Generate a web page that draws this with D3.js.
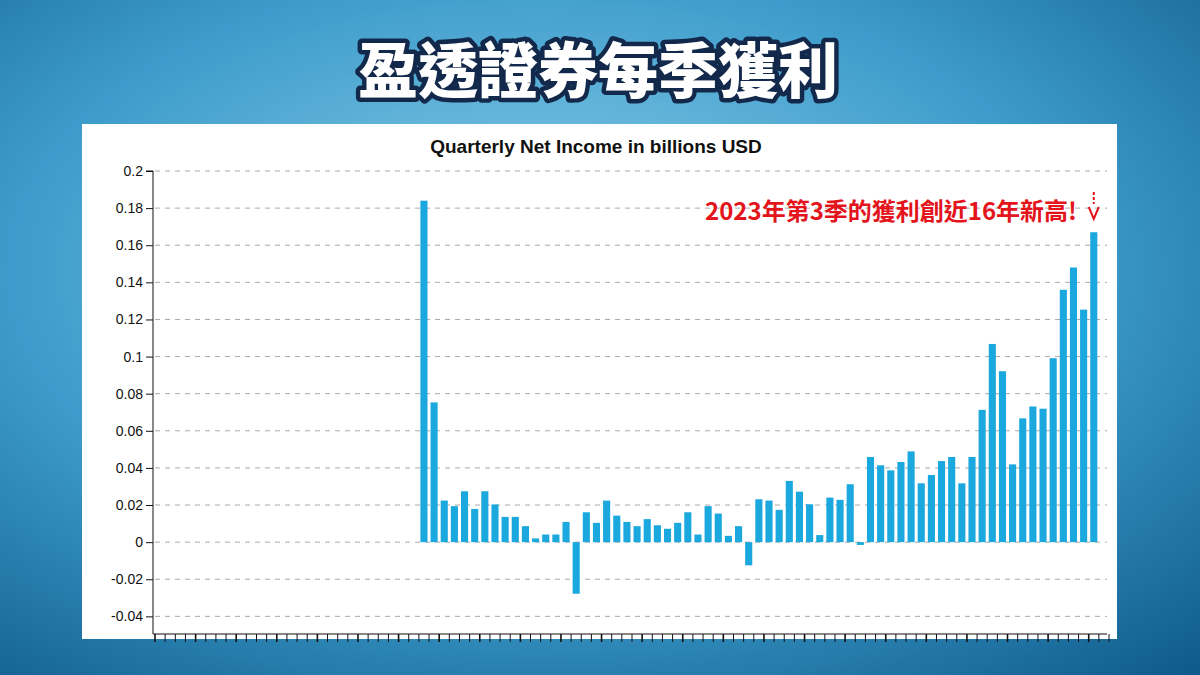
<!DOCTYPE html>
<html>
<head>
<meta charset="utf-8">
<script src="https://cdn.jsdelivr.net/npm/d3@7"></script>
<style>
  body {margin:0; width:1200px; height:675px; overflow:hidden;}
</style>
</head>
<body>
<svg id="chart" width="1200" height="675"></svg>
<script>
// quarters 2000Q3 .. 2023Q4 (94 slots), null = no data
const quarters = [];
for (let y = 2000; y <= 2023; y++) for (let q = 1; q <= 4; q++) quarters.push(y + 'Q' + q);
const slots = quarters.slice(2);
const leading = new Array(26).fill(null);
const income = [0.184, 0.0753, 0.0224, 0.0194, 0.0274, 0.0179, 0.0274, 0.0203, 0.0136, 0.0136,
  0.0086, 0.002, 0.0041, 0.0041, 0.0109, -0.0278, 0.0161, 0.0104, 0.0224, 0.0143,
  0.0109, 0.0086, 0.0124, 0.0091, 0.0072, 0.0104, 0.0161, 0.0041, 0.0194, 0.0154,
  0.0034, 0.0086, -0.0125, 0.0231, 0.0224, 0.0174, 0.033, 0.0272, 0.0204, 0.0038,
  0.024, 0.0228, 0.0312, -0.0015, 0.0459, 0.0414, 0.0387, 0.0432, 0.0489, 0.0317,
  0.0362, 0.0437, 0.0459, 0.0317, 0.0459, 0.0713, 0.1068, 0.0921, 0.0419, 0.0667,
  0.0731, 0.0719, 0.0991, 0.136, 0.148, 0.1253, 0.167];
const values = leading.concat(income, [null]);
const yTicks = [-0.04, -0.02, 0, 0.02, 0.04, 0.06, 0.08, 0.1, 0.12, 0.14, 0.16, 0.18, 0.2];

const svg = d3.select('#chart');
const defs = svg.append('defs');
const bg = defs.append('radialGradient').attr('id', 'bg').attr('cx', '45%').attr('cy', '40%').attr('r', '80%');
bg.append('stop').attr('offset', '0%').attr('stop-color', '#8fd0ea');
bg.append('stop').attr('offset', '55%').attr('stop-color', '#3d9ccb');
bg.append('stop').attr('offset', '100%').attr('stop-color', '#0f5c8c');
svg.append('rect').attr('width', 1200).attr('height', 675).attr('fill', 'url(#bg)');

// page title
svg.append('text').attr('x', 598).attr('y', 93).attr('text-anchor', 'middle')
  .attr('font-family', 'Noto Sans CJK TC').attr('font-weight', 900).attr('font-size', 60)
  .attr('fill', '#fff').attr('stroke', '#13294b').attr('stroke-width', 9)
  .attr('paint-order', 'stroke').attr('stroke-linejoin', 'round')
  .text('盈透證券每季獲利');

// white panel
svg.append('rect').attr('x', 82).attr('y', 124).attr('width', 1035).attr('height', 515).attr('fill', '#fff');

const x = d3.scaleBand().domain(slots).range([155, 1109]).paddingInner(0.3).paddingOuter(0.15);
const y = d3.scaleLinear().domain([-0.0495, 0.2]).range([634, 171]);

const g = svg.append('g').attr('font-family', 'Liberation Sans, Arial, sans-serif');

g.append('text').attr('x', 596).attr('y', 153).attr('text-anchor', 'middle')
  .attr('font-size', 19).attr('font-weight', 'bold').attr('fill', '#111')
  .text('Quarterly Net Income in billions USD');

// grid
g.selectAll('.grid').data(yTicks).join('line')
  .attr('x1', 155).attr('x2', 1107).attr('y1', d => y(d)).attr('y2', d => y(d))
  .attr('stroke', '#aaa').attr('stroke-dasharray', '5,5').attr('stroke-width', 1);

// bars
const data = slots.map((s, i) => ({s, v: values[i]})).filter(d => d.v !== null);
g.selectAll('.bar').data(data).join('rect')
  .attr('x', d => x(d.s)).attr('width', x.bandwidth())
  .attr('y', d => y(Math.max(0, d.v))).attr('height', d => Math.abs(y(d.v) - y(0)))
  .attr('fill', '#1aa8de');

// axes
const ya = g.append('g').attr('transform', 'translate(153,0)')
  .call(d3.axisLeft(y).tickValues(yTicks).tickSize(7).tickFormat(d => String(+d.toFixed(2))));
ya.select('.domain').attr('d', 'M-7,' + y(0.2) + 'H0V634');
ya.selectAll('text').attr('font-size', 14).attr('fill', '#111');
ya.selectAll('line, path').attr('stroke', '#111');

const step = x.step();
g.selectAll('.xt').data(d3.range(slots.length + 1)).join('line')
  .attr('x1', i => 155 + i * step).attr('x2', i => 155 + i * step)
  .attr('y1', 634).attr('y2', 642).attr('stroke', '#111').attr('stroke-width', i => i % 4 === 0 ? 1.6 : 1);
g.append('line').attr('x1', 153).attr('x2', 1107).attr('y1', 634).attr('y2', 634).attr('stroke', '#111');

// annotation
svg.append('text').attr('x', 1077).attr('y', 220).attr('text-anchor', 'end')
  .attr('font-family', 'Noto Sans CJK TC').attr('font-weight', 'bold').attr('font-size', 24)
  .attr('fill', '#e3141b').text('2023年第3季的獲利創近16年新高!');
const lastX = x(slots[92]) + x.bandwidth() / 2;
svg.append('line').attr('x1', lastX).attr('x2', lastX).attr('y1', 192).attr('y2', 204)
  .attr('stroke', '#e3141b').attr('stroke-width', 2).attr('stroke-dasharray', '3,2');
svg.append('path').attr('d', `M${lastX - 5},207L${lastX},219L${lastX + 5},207`)
  .attr('fill', 'none').attr('stroke', '#e3141b').attr('stroke-width', 2);
</script>
</body>
</html>
